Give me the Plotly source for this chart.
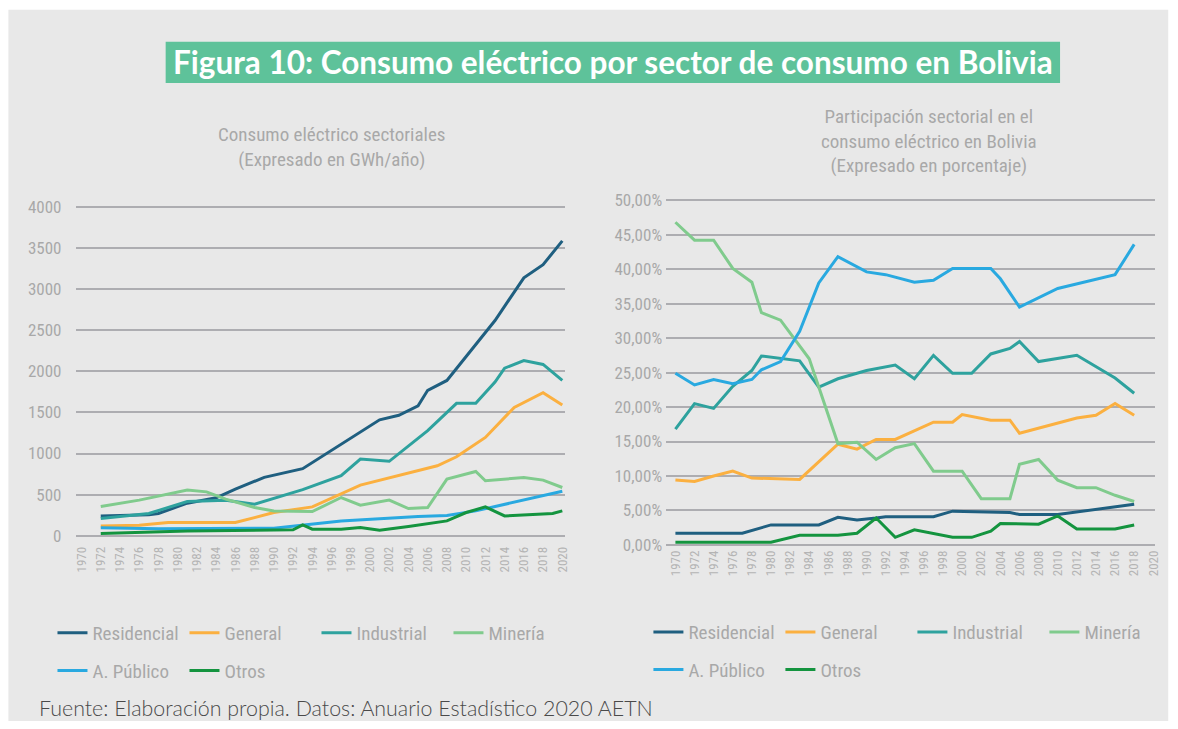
import plotly.graph_objects as go

# ---------------- DATA ----------------
tick_years = [1970, 1972, 1974, 1976, 1978, 1980, 1982, 1984, 1986, 1988, 1990, 1992, 1994,
              1996, 1998, 2000, 2002, 2004, 2006, 2008, 2010, 2012, 2014, 2016, 2018, 2020]
gwh_ticks = [0, 500, 1000, 1500, 2000, 2500, 3000, 3500, 4000]
pct_ticks = [0, 5, 10, 15, 20, 25, 30, 35, 40, 45, 50]

series_names = ["Residencial", "General", "Industrial", "Minería", "A. Público", "Otros"]
series_colors = ["#1F5F80", "#FBB040", "#2EA29E", "#80CB8D", "#29A9E0", "#14943F"]

# Left chart: consumption (GWh/year)
res_years = [1972, 1977, 1978, 1981, 1984, 1986, 1989, 1993, 2001, 2003, 2005, 2006, 2008, 2013, 2016, 2018, 2020]
res_gwh = [240, 255, 270, 395, 460, 566, 710, 815, 1410, 1465, 1580, 1770, 1890, 2620, 3140, 3300, 3590]

gen_years = [1972, 1976, 1979, 1986, 1990, 1994, 1999, 2004, 2007, 2009, 2012, 2015, 2018, 2020]
gen_gwh = [118, 127, 159, 159, 281, 350, 615, 757, 851, 960, 1196, 1562, 1740, 1590]

ind_years = [1972, 1977, 1981, 1985, 1988, 1993, 1997, 1999, 2002, 2006, 2009, 2011, 2013, 2014, 2016, 2018, 2020]
ind_gwh = [208, 269, 415, 432, 383, 560, 729, 932, 905, 1278, 1611, 1611, 1870, 2040, 2132, 2085, 1890]

min_years = [1972, 1976, 1981, 1983, 1985, 1988, 1990, 1994, 1997, 1999, 2002, 2004, 2006, 2008, 2011, 2012, 2016, 2018, 2020]
min_gwh = [354, 432, 554, 533, 444, 342, 301, 293, 464, 371, 432, 330, 342, 688, 781, 668, 708, 676, 586]

pub_years = [1972, 1978, 1990, 1993, 1997, 2005, 2008, 2011, 2020]
pub_gwh = [95, 82, 90, 125, 179, 232, 245, 301, 540]

otr_years = [1972, 1981, 1992, 1993, 1994, 1997, 1999, 2001, 2004, 2008, 2010, 2012, 2014, 2019, 2020]
otr_gwh = [25, 57, 70, 131, 78, 78, 98, 66, 110, 179, 281, 350, 240, 269, 301]

# Right chart: sectoral share (%)
res_share_years = [1970, 1977, 1980, 1985, 1987, 1989, 1991, 1992, 1997, 1999, 2005, 2006, 2010, 2018]
res_share = [1.7, 1.7, 2.9, 2.9, 4.0, 3.6, 3.9, 4.1, 4.1, 4.9, 4.7, 4.4, 4.4, 5.9]

gen_share_years = [1970, 1972, 1974, 1976, 1978, 1983, 1987, 1989, 1991, 1993, 1997, 1999, 2000, 2003, 2005,
                   2006, 2012, 2014, 2016, 2018]
gen_share = [9.4, 9.2, 10.0, 10.7, 9.7, 9.5, 14.6, 13.9, 15.3, 15.3, 17.8, 17.8, 18.9, 18.1, 18.1,
             16.2, 18.4, 18.8, 20.5, 18.8]

ind_share_years = [1970, 1972, 1974, 1976, 1978, 1979, 1983, 1985, 1987, 1990, 1993, 1995, 1997, 1999, 2001,
                   2003, 2005, 2006, 2008, 2012, 2016, 2018]
ind_share = [16.8, 20.5, 19.8, 23.0, 25.3, 27.4, 26.7, 22.9, 24.1, 25.3, 26.1, 24.1, 27.5, 24.9, 24.9,
             27.7, 28.5, 29.5, 26.6, 27.5, 24.2, 22.0]

min_share_years = [1970, 1972, 1974, 1976, 1978, 1979, 1981, 1984, 1987, 1989, 1991, 1993, 1995, 1997, 2000,
                   2002, 2005, 2006, 2008, 2010, 2012, 2014, 2016, 2018]
min_share = [46.8, 44.2, 44.2, 40.1, 38.1, 33.7, 32.6, 27.0, 14.7, 14.9, 12.4, 14.1, 14.7, 10.7, 10.7,
             6.7, 6.7, 11.7, 12.4, 9.4, 8.3, 8.3, 7.2, 6.3]

pub_share_years = [1970, 1972, 1974, 1976, 1978, 1979, 1981, 1983, 1985, 1987, 1990, 1992, 1995, 1997, 1999,
                   2003, 2004, 2006, 2010, 2016, 2018]
pub_share = [24.9, 23.2, 24.0, 23.4, 24.0, 25.4, 26.6, 31.0, 38.0, 41.8, 39.6, 39.2, 38.1, 38.4, 40.1,
             40.1, 38.6, 34.5, 37.2, 39.2, 43.6]

otr_share_years = [1970, 1980, 1983, 1987, 1989, 1991, 1993, 1995, 1999, 2001, 2003, 2004, 2008, 2010, 2012,
                   2016, 2018]
otr_share = [0.4, 0.4, 1.4, 1.4, 1.7, 3.9, 1.1, 2.2, 1.1, 1.1, 2.0, 3.1, 3.0, 4.2, 2.3, 2.3, 2.9]

title_text = "Figura 10: Consumo eléctrico por sector de consumo en Bolivia"
left_subtitle = "Consumo eléctrico sectoriales<br>(Expresado en GWh/año)"
right_subtitle = "Participación sectorial en el<br>consumo eléctrico en Bolivia<br>(Expresado en porcentaje)"
footer_text = "Fuente: Elaboración propia. Datos: Anuario Estadístico 2020 AETN"

# ---------------- FIGURE ----------------
W, H = 1178, 729
# calibration of the page-to-picture mapping observed in earlier renders
SX, OX = 0.9925, 3.6
SY, OY = 0.976, 8.2
NARROW = "Liberation Sans Narrow, Arial Narrow, Roboto Condensed, sans-serif"
GRAY_TXT = "#A8A8A8"
GRID = "#ADADB1"

left_data = [(res_years, res_gwh), (gen_years, gen_gwh), (ind_years, ind_gwh),
             (min_years, min_gwh), (pub_years, pub_gwh), (otr_years, otr_gwh)]
right_data = [(res_share_years, res_share), (gen_share_years, gen_share), (ind_share_years, ind_share),
              (min_share_years, min_share), (pub_share_years, pub_share), (otr_share_years, otr_share)]

fig = go.Figure()
for i, (name, color) in enumerate(zip(series_names, series_colors)):
    xs, ys = left_data[i]
    fig.add_trace(go.Scatter(x=xs, y=ys, mode="lines", name=name,
                             line=dict(color=color, width=3),
                             xaxis="x", yaxis="y",
                             legend="legend" if i < 4 else "legend2"))
for i, (name, color) in enumerate(zip(series_names, series_colors)):
    xs, ys = right_data[i]
    fig.add_trace(go.Scatter(x=xs, y=ys, mode="lines", name=name,
                             line=dict(color=color, width=3),
                             xaxis="x2", yaxis="y2",
                             legend="legend3" if i < 4 else "legend4"))


def px_x(p):
    return min(1.0, max(0.0, ((p - OX) / SX) / W))


def px_y(p):
    return min(1.0, max(0.0, 1 - ((p - OY) / SY) / H))


xaxis_common = dict(showgrid=False, zeroline=False, showline=False, ticks="",
                    tickangle=-90, tickmode="array", tickvals=tick_years,
                    ticktext=[str(t) for t in tick_years],
                    tickfont=dict(family=NARROW, size=13, color="#B4B4B4"))

fig.update_layout(
    width=W, height=H,
    margin=dict(l=0, r=0, t=0, b=0),
    paper_bgcolor="white", plot_bgcolor="rgba(0,0,0,0)",
    xaxis=dict(domain=[px_x(77), px_x(566)], range=[1969.375, 2020.31],
               ticklabelstandoff=6, **xaxis_common),
    yaxis=dict(domain=[px_y(536.34), px_y(205.36)], range=[-20, 4020],
               tickmode="array", tickvals=gwh_ticks, ticktext=[str(v) for v in gwh_ticks],
               showgrid=True, gridcolor=GRID, gridwidth=1.5, zeroline=False, showline=False,
               ticks="", ticklabelstandoff=13,
               tickfont=dict(family=NARROW, size=17, color=GRAY_TXT)),
    xaxis2=dict(domain=[px_x(666.7), px_x(1155)], range=[1969.03, 2020.2],
                anchor="y2", **xaxis_common),
    yaxis2=dict(domain=[px_y(546.06), px_y(197.94)], range=[-0.3, 50.3], anchor="x2",
                tickmode="array", tickvals=pct_ticks,
                ticktext=[f"{v:.2f}%".replace(".", ",") for v in pct_ticks],
                showgrid=True, gridcolor=GRID, gridwidth=1.5, zeroline=False, showline=False,
                ticks="", ticklabelstandoff=3,
                tickfont=dict(family=NARROW, size=17, color=GRAY_TXT)),
    showlegend=True,
)

legend_common = dict(orientation="h", bgcolor="rgba(0,0,0,0)", borderwidth=0,
                     font=dict(family=NARROW, size=19, color=GRAY_TXT),
                     entrywidth=87, entrywidthmode="pixels",
                     xanchor="left", yanchor="middle", itemclick=False, itemdoubleclick=False)
fig.update_layout(
    legend=dict(x=px_x(54), y=px_y(631.7), **legend_common),
    legend2=dict(x=px_x(54), y=px_y(669.5), **legend_common),
    legend3=dict(x=px_x(649), y=px_y(631), **legend_common),
    legend4=dict(x=px_x(649), y=px_y(668.5), **legend_common),
)

# background panel and title banner
fig.add_shape(type="rect", xref="paper", yref="paper", x0=px_x(10), x1=px_x(1168), y0=0, y1=px_y(10),
              fillcolor="#E8E8E8", line=dict(width=0), layer="below")
fig.add_shape(type="rect", xref="paper", yref="paper", x0=px_x(167), x1=px_x(1060), y0=px_y(83), y1=px_y(42),
              fillcolor="#5EC29A", line=dict(width=0), layer="below")

fig.add_annotation(text=f"<b>{title_text}</b>", xref="paper", yref="paper",
                   x=px_x(614), y=px_y(62.5), xanchor="center", yanchor="middle", showarrow=False,
                   font=dict(family="Lato, sans-serif", size=31.5, color="white"))
fig.add_annotation(text=left_subtitle, xref="paper", yref="paper",
                   x=px_x(333), y=px_y(146.5), xanchor="center", yanchor="middle", showarrow=False,
                   font=dict(family=NARROW, size=19, color=GRAY_TXT))
fig.add_annotation(text=right_subtitle, xref="paper", yref="paper",
                   x=px_x(929), y=px_y(141), xanchor="center", yanchor="middle", showarrow=False,
                   font=dict(family=NARROW, size=19, color=GRAY_TXT))
fig.add_annotation(text=footer_text, xref="paper", yref="paper",
                   x=px_x(39), y=px_y(707), xanchor="left", yanchor="middle", showarrow=False,
                   font=dict(family="Lato, sans-serif", size=21.4, color="#4A4A4A", weight=300))

fig.write_html("out.html", config={"displayModeBar": False},
               post_script="document.body.style.margin='0';document.body.style.overflow='hidden';"
                           "document.documentElement.style.overflow='hidden';")
